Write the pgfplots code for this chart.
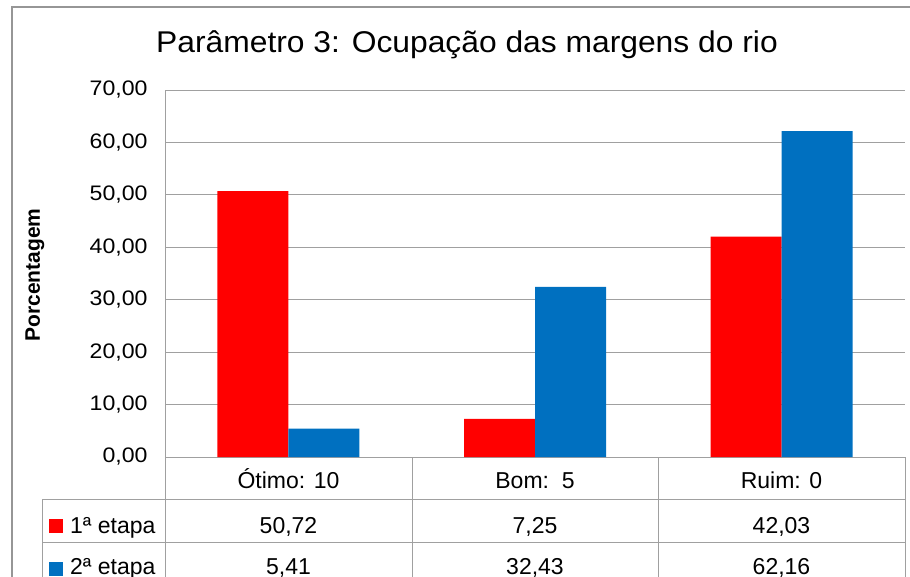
\documentclass[border=0pt]{standalone}
\usepackage{pgfplots}
\pgfplotsset{compat=1.18}
\usepackage{fontspec}
\setmainfont{Liberation Sans}[FakeStretch=1.1]
\newfontfamily\labfont{Liberation Sans}
\newfontfamily\titlefont{Liberation Sans}[FakeStretch=1.06]
\definecolor{barred}{RGB}{255,0,0}
\definecolor{barblue}{RGB}{0,112,192}
\definecolor{gridc}{RGB}{160,160,160}
\definecolor{framec}{RGB}{150,150,150}
\begin{document}
\begin{tikzpicture}
\useasboundingbox (0pt,0pt) rectangle (910pt,576pt);
\draw[framec, line width=1.5pt] (12pt,-10pt) -- (12pt,569pt) -- (920pt,569pt);
\node[font=\titlefont\fontsize{30}{34}\selectfont, anchor=base, inner sep=0pt] at (467pt,523pt) {Parâmetro 3: Ocupação das margens do rio};
\node[font=\labfont\bfseries\fontsize{21}{24}\selectfont, rotate=90] at (35pt,301pt) {Porcentagem};
\begin{axis}[
  at={(165pt,119pt)}, anchor=south west,
  scale only axis, width=740pt, height=367pt,
  ybar=0pt, bar width=71pt,
  xmin=-0.5, xmax=2.5, ymin=0, ymax=70,
  ytick={0,10,...,70}, xtick=\empty,
  axis x line*=bottom, axis y line*=left,
  axis line style={gridc, line width=1pt},
  ymajorgrids, grid style={gridc, line width=1pt},
  major tick length=0pt,
  yticklabel style={font=\fontsize{21}{24}\selectfont, xshift=-14pt},
  /pgf/number format/.cd, fixed, fixed zerofill, precision=2, use comma, assume math mode=true,
  /pgfplots/.cd,
  clip=false,
]
\addplot[fill=barred, draw=none] coordinates {(0,50.72) (1,7.25) (2,42.03)};
\addplot[fill=barblue, draw=none] coordinates {(0,5.41) (1,32.43) (2,62.16)};
\end{axis}
% data table
\begin{scope}[gridc, line width=1pt]
\draw (165pt,119pt) -- (165pt,-5pt);
\draw (412pt,119pt) -- (412pt,-5pt);
\draw (658pt,119pt) -- (658pt,-5pt);
\draw (905pt,119pt) -- (905pt,-5pt);
\draw (42pt,77pt) -- (905pt,77pt);
\draw (42pt,34pt) -- (905pt,34pt);
\draw (42pt,77pt) -- (42pt,-5pt);
\end{scope}
\begin{scope}[every node/.style={font=\labfont\fontsize{23}{26}\selectfont, anchor=base, inner sep=0pt}]
\node at (288.5pt,88pt) {Ótimo: 10};
\node at (535pt,88pt) {Bom:\ \ 5};
\node at (781.5pt,88pt) {Ruim: 0};
\node at (288.5pt,43pt) {50,72};
\node at (535pt,43pt) {7,25};
\node at (781.5pt,43pt) {42,03};
\node at (288.5pt,2pt) {5,41};
\node at (535pt,2pt) {32,43};
\node at (781.5pt,2pt) {62,16};
\node[anchor=base west] at (70pt,43pt) {1ª etapa};
\node[anchor=base west] at (70pt,2pt) {2ª etapa};
\end{scope}
\fill[barred] (49pt,43pt) rectangle (63pt,57pt);
\fill[barblue] (49pt,0pt) rectangle (63pt,14pt);
\end{tikzpicture}
\end{document}
